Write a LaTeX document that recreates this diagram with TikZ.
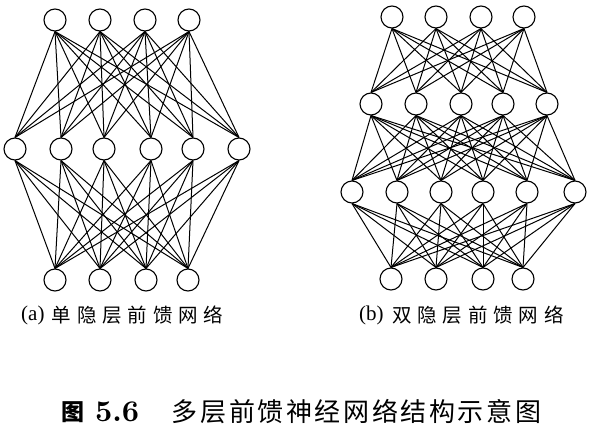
\documentclass[tikz,border=0pt]{standalone}
\usepackage{fontspec}
\newfontfamily\cjk{Noto Sans CJK SC}
\newfontfamily\cjkwide[LetterSpace=30]{Noto Sans CJK SC}
\newfontfamily\cjkcap[LetterSpace=10]{Noto Sans CJK SC}
\newfontfamily\tagfont{Liberation Serif}
\usetikzlibrary{positioning}
\tikzset{
neuron/.style = {draw, fill=white, circle, minimum size=22pt, inner sep=0pt, line width=1.1pt},
link/.style = {line width=1pt},
tag/.style = {inner sep=0pt, anchor=west, font=\tagfont\fontsize{21}{21}\selectfont},
subcap/.style = {inner sep=0pt, font=\cjkwide\fontsize{19.5}{20}\selectfont},
figcap/.style = {inner sep=0pt, font=\cjkcap\fontsize{26}{26}\selectfont}
}

\begin{document}
\begin{tikzpicture}[x=1pt, y=-1pt]
    \useasboundingbox (0,0) rectangle (599,431);
    % (a) one hidden layer
    \foreach \x [count=\i] in {55,100,145,189}
        \node [neuron] (at\i) at (\x,20) {};
    \foreach \x [count=\i] in {15,61,104,151,193,239}
        \node [neuron] (am\i) at (\x,149) {};
    \foreach \x [count=\i] in {55,100,146,188}
        \node [neuron] (ab\i) at (\x,280) {};
    \foreach \i in {1,...,4}
        \foreach \j in {1,...,6} {
            \draw [link] (at\i.south) -- (am\j.north);
            \draw [link] (am\j.south) -- (ab\i.north);
        }
    % (b) two hidden layers
    \foreach \x [count=\i] in {392,436,481,524}
        \node [neuron] (bt\i) at (\x,17) {};
    \foreach \x [count=\i] in {371,416,461,503,547}
        \node [neuron] (bh\i) at (\x,104) {};
    \foreach \x [count=\i] in {352,397,441,483,527,575}
        \node [neuron] (bm\i) at (\x,192) {};
    \foreach \x [count=\i] in {391,436,483,523}
        \node [neuron] (bb\i) at (\x,279) {};
    \foreach \j in {1,...,5} {
        \foreach \i in {1,...,4}
            \draw [link] (bt\i.south) -- (bh\j.north);
        \foreach \k in {1,...,6}
            \draw [link] (bh\j.south) -- (bm\k.north);
    }
    \foreach \k in {1,...,6}
        \foreach \i in {1,...,4}
            \draw [link] (bm\k.south) -- (bb\i.north);
    % captions
    \node [tag] (taga) at (21,315) {(a)};
    \node [subcap, right=7pt of taga] (capa) {单隐层前馈网络};
    \node [tag] (tagb) at (359,315) {(b)};
    \node [subcap, right=8pt of tagb] (capb) {双隐层前馈网络};
    \node [inner sep=0pt, anchor=west, font=\cjk\bfseries\fontsize{23}{24}\selectfont] (fignum) at (61,412) {图};
    \node [inner sep=0pt, scale=3, right=10pt of fignum, font=\bfseries] (fignr) {5.6};
    \node [figcap, right=32pt of fignr] (capfig) {多层前馈神经网络结构示意图};
\end{tikzpicture}
\end{document}
